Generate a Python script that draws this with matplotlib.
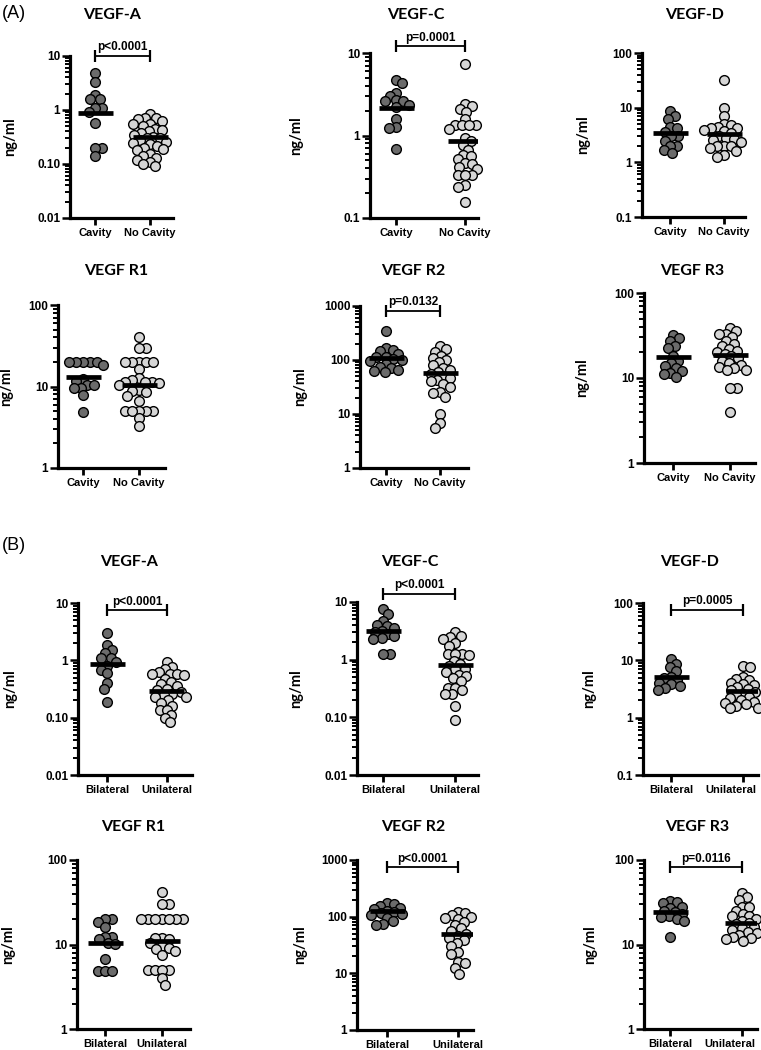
import numpy as np
import matplotlib
matplotlib.use("Agg")
import matplotlib.pyplot as plt
from matplotlib.ticker import FixedLocator, NullLocator
from matplotlib.transforms import ScaledTranslation

plt.rcParams['font.family'] = ['Liberation Sans', 'DejaVu Sans']

# ---- data (ng/ml) ----
# (A) cavity vs no cavity
a_vegfa_1 = [4.9, 3.3, 1.9, 1.57, 1.57, 1.07, 1.07, 0.93, 0.57, 0.195, 0.195, 0.14]
a_vegfa_2 = [0.85, 0.72, 0.70, 0.68, 0.62, 0.55, 0.55, 0.50, 0.45, 0.42, 0.40, 0.38, 0.35, 0.32,
             0.30, 0.30, 0.28, 0.26, 0.25, 0.23, 0.22, 0.20, 0.19, 0.18, 0.15, 0.14, 0.13, 0.12,
             0.11, 0.10, 0.09]
a_vegfc_1 = [4.7, 4.3, 3.3, 3.0, 2.7, 2.6, 2.6, 2.35, 2.2, 1.6, 1.28, 1.25, 0.69]
a_vegfc_2 = [7.3, 2.4, 2.3, 2.1, 1.95, 1.6, 1.35, 1.35, 1.35, 1.35, 1.2, 0.93, 0.85, 0.77, 0.67,
             0.58, 0.56, 0.52, 0.46, 0.45, 0.42, 0.39, 0.33, 0.33, 0.33, 0.25, 0.24, 0.155]
a_vegfd_1 = [8.6, 6.9, 6.2, 4.5, 4.25, 3.6, 3.0, 3.0, 2.5, 1.95, 1.95, 1.7, 1.48]
a_vegfd_2 = [32, 9.8, 7.1, 5.1, 4.8, 4.5, 4.3, 4.2, 3.9, 3.7, 3.5, 3.0, 2.8, 2.7, 2.6, 2.4, 2.0,
             1.95, 1.95, 1.8, 1.6, 1.38, 1.25]
a_r1_1 = [20, 20, 20, 20, 20, 18.5, 12.3, 11.8, 10.5, 10.3, 9.7, 9.5, 7.9, 4.9]
a_r1_2 = [41, 30, 30, 20, 20, 20, 20, 20, 16.3, 12.6, 12, 11.5, 11.5, 11.5, 11, 10.5, 9.1, 8.8,
          8.5, 7.7, 6.7, 5.0, 5.0, 5.0, 5.0, 5.0, 4.1, 3.3]
a_r2_1 = [345, 165, 155, 145, 130, 116, 113, 105, 100, 95, 85, 75, 70, 65, 62, 60]
a_r2_2 = [178, 158, 143, 120, 108, 100, 90, 80, 71, 65, 60, 55, 50, 46, 42, 40, 36, 32, 26, 24,
          21, 10, 6.8, 5.5]
a_r3_1 = [32, 29.5, 27, 24, 22.6, 18, 16, 15, 13.7, 13, 12, 11.5, 11, 10.4]
a_r3_2 = [38.7, 35.5, 33, 32.5, 30, 27, 25, 23.5, 22, 21, 20.5, 19, 18, 17, 16, 15, 14.3, 13.5,
          13, 12.5, 12.5, 7.6, 7.6, 4.0]

# (B) bilateral vs unilateral
b_vegfa_1 = [3.04, 1.85, 1.5, 1.33, 1.11, 1.08, 0.95, 0.8, 0.68, 0.59, 0.41, 0.32, 0.19]
b_vegfa_2 = [0.95, 0.77, 0.7, 0.62, 0.58, 0.58, 0.58, 0.56, 0.48, 0.42, 0.38, 0.35, 0.32, 0.3,
             0.28, 0.26, 0.25, 0.23, 0.23, 0.2, 0.18, 0.16, 0.135, 0.135, 0.11, 0.1, 0.083]
b_vegfc_1 = [7.6, 6.2, 4.76, 4.05, 3.8, 3.55, 3.2, 3.0, 2.8, 2.6, 2.4, 2.3, 1.27, 1.27]
b_vegfc_2 = [3.0, 2.6, 2.5, 2.3, 1.95, 1.7, 1.25, 1.25, 1.25, 1.2, 0.95, 0.85, 0.78, 0.7, 0.69,
             0.6, 0.55, 0.53, 0.48, 0.42, 0.32, 0.32, 0.3, 0.25, 0.25, 0.155, 0.09]
b_vegfd_1 = [10.4, 8.7, 7.5, 6.4, 5.2, 4.9, 4.5, 4.0, 3.8, 3.5, 3.3, 3.04]
b_vegfd_2 = [8.1, 7.5, 5.2, 4.8, 4.5, 4.1, 3.9, 3.7, 3.4, 3.2, 3.0, 2.8, 2.6, 2.5, 2.3, 2.2, 2.0,
             1.9, 1.8, 1.7, 1.6, 1.5, 1.45]
b_r1_1 = [20, 20, 18.7, 16.3, 12.4, 12.4, 11.5, 10.4, 10.2, 6.7, 4.9, 4.9, 4.9]
b_r1_2 = [41.5, 30, 30, 20, 20, 20, 20, 20, 20, 20, 12, 11.9, 11.5, 10.5, 9.5, 9.2, 8.8, 8.3,
          7.5, 5.0, 5.0, 5.0, 5.0, 4.0, 3.35]
b_r2_1 = [171, 165, 155, 145, 135, 128, 120, 115, 110, 105, 95, 85, 75, 71]
b_r2_2 = [120, 114, 107, 100, 95, 90, 80, 70, 62, 55, 50, 45, 42, 38, 34, 30, 24, 22, 16, 15.4,
          12.3, 9.6]
b_r3_1 = [33, 32, 31, 28, 27, 25, 24, 23, 22, 21, 20, 19, 12.4]
b_r3_2 = [40.5, 36, 34, 28, 27.5, 25, 23, 22, 21.5, 20, 19, 18, 17.5, 16, 15.5, 15, 14.2, 13.5,
          13, 12.4, 12, 11.5, 11]

# central lines as drawn
a_lines = [(0.89, 0.31), (2.14, 0.85), (3.5, 3.3), (13, 10.5), (108, 57), (17.5, 18.8)]
b_lines = [(0.85, 0.295), (3.1, 0.8), (5.06, 2.96), (10.4, 11), (125, 49.5), (24.5, 18.2)]

titles = ['VEGF-A', 'VEGF-C', 'VEGF-D', 'VEGF R1', 'VEGF R2', 'VEGF R3']
a_groups = ['Cavity', 'No Cavity']
b_groups = ['Bilateral', 'Unilateral']
a_pvals = ['p<0.0001', 'p=0.0001', None, None, 'p=0.0132', None]
b_pvals = ['p<0.0001', 'p<0.0001', 'p=0.0005', None, 'p<0.0001', 'p=0.0116']
a_pval_y = [10, 12, None, None, 810, None]
b_pval_y = [7.4, 14, 76, None, 743, 82]

a_ylims = [(0.01, 10), (0.1, 10), (0.1, 100), (1, 100), (1, 1000), (1, 100)]
b_ylims = [(0.01, 10), (0.01, 10), (0.1, 100), (1, 100), (1, 1000), (1, 100)]
a_yticklabels = [['0.01', '0.10', '1', '10'], ['0.1', '1', '10'], ['0.1', '1', '10', '100'],
                 ['1', '10', '100'], ['1', '10', '100', '1000'], ['1', '10', '100']]
b_yticklabels = [['0.01', '0.10', '1', '10'], ['0.01', '0.10', '1', '10'],
                 ['0.1', '1', '10', '100'], ['1', '10', '100'], ['1', '10', '100', '1000'],
                 ['1', '10', '100']]

# ---- layout in pixels: spine x, tick1 x, tick2 x, axis end x, top y, bottom y,
#      ylabel offset, title x, title y, shift of 2nd x label
W, H = 761, 1050
a_layout = [(70, 95, 150, 173, 56, 218, 53, 112, 15, 0),
            (370, 396, 465, 478, 53, 218, 67, 416, 15, 0),
            (642, 670, 724, 745, 53, 217, 52, 695, 15, 0),
            (58, 83, 139, 165, 305, 468, 45, 116, 271, 0),
            (360, 386, 440, 468, 306, 468, 53, 413, 271, 0),
            (644, 673, 730, 755, 293, 463, 55, 692, 271, 0)]
b_layout = [(78, 107, 167, 192, 603, 775, 61, 129, 562, 0),
            (357, 383, 455, 478, 602, 775, 54, 410, 562, 0),
            (643, 671, 743, 758, 603, 775, 47, 690, 562, -12),
            (77, 105, 162, 190, 860, 1029, 62, 133, 827, 0),
            (357, 387, 458, 473, 860, 1030, 50, 413, 827, 0),
            (644, 670, 742, 757, 860, 1029, 47, 697, 827, -12)]

a_data = [(a_vegfa_1, a_vegfa_2), (a_vegfc_1, a_vegfc_2), (a_vegfd_1, a_vegfd_2),
          (a_r1_1, a_r1_2), (a_r2_1, a_r2_2), (a_r3_1, a_r3_2)]
b_data = [(b_vegfa_1, b_vegfa_2), (b_vegfc_1, b_vegfc_2), (b_vegfd_1, b_vegfd_2),
          (b_r1_1, b_r1_2), (b_r2_1, b_r2_2), (b_r3_1, b_r3_2)]

DARK = '#6b6b6b'
LIGHT = '#d6d6d6'
DIAM = 9.7  # marker diameter in px


def swarm(ax, xc, vals, gap):
    # simple beeswarm in display pixels, alternating sides
    pts = ax.transData.transform(np.column_stack([np.full(len(vals), xc), vals]))
    order = np.argsort(vals)[::-1]
    placed = []
    xs = np.zeros(len(vals))
    side = 1
    for i in order:
        x0, y0 = pts[i]
        cands = [x0]
        for px, py in placed:
            dy = y0 - py
            if abs(dy) < gap:
                dx = np.sqrt(gap ** 2 - dy ** 2)
                cands += [px + dx, px - dx]
        cands.sort(key=lambda c: (round(abs(c - x0), 3), -side * (c - x0)))
        for c in cands:
            if all((c - px) ** 2 + (y0 - py) ** 2 >= gap ** 2 - 1e-6 for px, py in placed):
                break
        if c != x0:
            side = -side
        placed.append((c, y0))
        xs[i] = c
    back = ax.transData.inverted().transform(np.column_stack([xs, pts[:, 1]]))
    return back[:, 0]


def panel(fig, lay, data, lines, title, groups, pval, pval_y, ylim, ylabels):
    sx, t1, t2, ex, ty, by, ldx, tx, tty, shift = lay
    d = t2 - t1
    wpx = ex - sx
    ax = fig.add_axes([sx / W, 1 - by / H, wpx / W, (by - ty) / H])
    ax.set_yscale('log')
    ax.set_ylim(*ylim)
    ax.set_xlim((sx - t1) / d, 1 + (ex - t2) / d)
    for s in ['top', 'right']:
        ax.spines[s].set_visible(False)
    for s in ['left', 'bottom']:
        ax.spines[s].set_linewidth(2.3)
    lo = int(round(np.log10(ylim[0])))
    hi = int(round(np.log10(ylim[1])))
    decades = [10.0 ** k for k in range(lo, hi + 1)]
    minors = [m * 10.0 ** k for k in range(lo, hi) for m in range(2, 10)]
    ax.yaxis.set_major_locator(FixedLocator(decades))
    ax.yaxis.set_minor_locator(NullLocator())
    ax.set_yticklabels(ylabels, fontweight='bold', fontsize=8.5)
    ax.tick_params(axis='y', which='major', length=6, width=1.8, pad=1)
    # minor ticks drawn as short strokes left of the spine
    ytr = ax.get_yaxis_transform()
    for m in minors:
        ax.plot([-5.5 / wpx, 0], [m, m], transform=ytr, color='black', lw=1.4,
                clip_on=False, solid_capstyle='butt', zorder=2)
    ax.set_xticks([0, 1])
    ax.set_xticklabels(groups, fontweight='bold', fontsize=8)
    ax.tick_params(axis='x', length=5, width=2, pad=2)
    if shift:
        lab = ax.get_xticklabels()[1]
        lab.set_transform(lab.get_transform() + ScaledTranslation(shift / 100, 0, fig.dpi_scale_trans))
    ax.set_ylabel('ng/ml', family=['Lato', 'DejaVu Sans'], fontweight='bold', fontsize=10.5)
    ax.yaxis.set_label_coords(-ldx / wpx, 0.5)

    hw = 17.5 / d
    for i, (vals, col) in enumerate(zip(data, [DARK, LIGHT])):
        xs = swarm(ax, i, np.array(vals, float), DIAM * 0.72)
        ax.scatter(xs, vals, s=49, c=col, edgecolors='black', linewidths=1.0,
                   zorder=3, clip_on=False)
        ax.plot([i - hw, i + hw], [lines[i], lines[i]], color='black', lw=3.4,
                solid_capstyle='butt', zorder=4)

    if pval:
        ax.plot([0, 1], [pval_y, pval_y], color='black', lw=1.3, clip_on=False,
                marker='|', markersize=8, markeredgewidth=1.6, zorder=5)
        ax.annotate(pval, xy=(0.5, pval_y), xytext=(0, 2), textcoords='offset points',
                    ha='center', va='bottom', fontsize=8.5, fontweight='bold',
                    annotation_clip=False)

    fig.text(tx / W, 1 - tty / H, title, ha='center', va='center',
             family=['Lato', 'DejaVu Sans'], fontweight='bold', fontsize=11.5)
    return ax


fig = plt.figure(figsize=(W / 100, H / 100), dpi=100)

for k in range(6):
    panel(fig, a_layout[k], a_data[k], a_lines[k], titles[k], a_groups,
          a_pvals[k], a_pval_y[k], a_ylims[k], a_yticklabels[k])
    panel(fig, b_layout[k], b_data[k], b_lines[k], titles[k], b_groups,
          b_pvals[k], b_pval_y[k], b_ylims[k], b_yticklabels[k])

fig.text(2 / W, 1 - 13 / H, '(A)', ha='left', va='center', fontsize=13)
fig.text(2 / W, 1 - 545 / H, '(B)', ha='left', va='center', fontsize=13)

fig.savefig('out.png', dpi=100)
